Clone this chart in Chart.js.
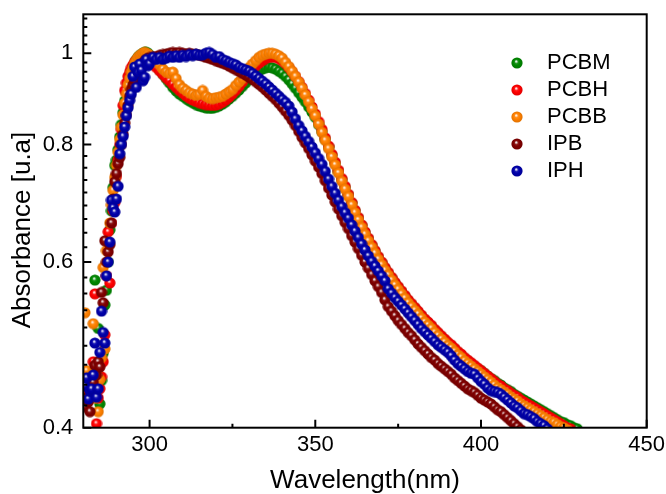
<!DOCTYPE html>
<html>
<head>
<meta charset="utf-8">
<script src="https://cdn.jsdelivr.net/npm/chart.js@4/dist/chart.umd.min.js"></script>
<style>
html,body{margin:0;padding:0;background:#fff;}
canvas{display:block;}
</style>
</head>
<body>
<canvas id="c" width="666" height="494"></canvas>
<script>
// ---------------- DATA ----------------
const seriesNames = ['PCBM', 'PCBH', 'PCBB', 'IPB', 'IPH'];
const xTickValues = [300, 350, 400, 450];
const xMinorTickValues = [325, 375, 425];
const yTickValues = [0.4, 0.6, 0.8, 1];
const yTickLabels = ['0.4', '0.6', '0.8', '1'];

// wavelength grid (nm): 0.5 nm steps up to 300, then 1 nm steps
const waveFine = [280.5, 281, 281.5, 282, 282.5, 283, 283.5, 284, 284.5, 285,
  285.5, 286, 286.5, 287, 287.5, 288, 288.5, 289, 289.5, 290,
  290.5, 291, 291.5, 292, 292.5, 293, 293.5, 294, 294.5, 295,
  295.5, 296, 296.5, 297, 297.5, 298, 298.5, 299, 299.5, 300];
const waveMain = [301, 302, 303, 304, 305, 306, 307, 308, 309, 310,
  311, 312, 313, 314, 315, 316, 317, 318, 319, 320,
  321, 322, 323, 324, 325, 326, 327, 328, 329, 330,
  331, 332, 333, 334, 335, 336, 337, 338, 339, 340,
  341, 342, 343, 344, 345, 346, 347, 348, 349, 350,
  351, 352, 353, 354, 355, 356, 357, 358, 359, 360,
  361, 362, 363, 364, 365, 366, 367, 368, 369, 370,
  371, 372, 373, 374, 375, 376, 377, 378, 379, 380,
  381, 382, 383, 384, 385, 386, 387, 388, 389, 390,
  391, 392, 393, 394, 395, 396, 397, 398, 399, 400,
  401, 402, 403, 404, 405, 406, 407, 408, 409, 410,
  411, 412, 413, 414, 415, 416, 417, 418, 419, 420,
  421, 422, 423, 424, 425, 426, 427, 428, 429, 430];
const wavelengths = waveFine.concat(waveMain);

const pcbm = [
  0.440, 0.445, 0.438, 0.430, 0.440, 0.450, 0.574, 0.460, 0.510, 0.424,
  0.449, 0.480, 0.540, 0.560, 0.600, 0.649, 0.680, 0.720, 0.760, 0.770,
  0.790, 0.815, 0.840, 0.865, 0.890, 0.910, 0.930, 0.945, 0.958, 0.968,
  0.977, 0.984, 0.990, 0.994, 0.997, 1.000, 1.002, 1.002, 1.000, 0.995,
  0.985, 0.972, 0.960, 0.950, 0.940, 0.930, 0.920, 0.912, 0.905, 0.900,
  0.895, 0.890, 0.886, 0.882, 0.879, 0.877, 0.875, 0.874, 0.874, 0.876,
  0.879, 0.883, 0.888, 0.894, 0.900, 0.907, 0.914, 0.922, 0.930, 0.938,
  0.945, 0.952, 0.958, 0.962, 0.965, 0.966, 0.965, 0.962, 0.957, 0.952,
  0.945, 0.937, 0.928, 0.918, 0.908, 0.898, 0.888, 0.877, 0.866, 0.855,
  0.840, 0.825, 0.810, 0.795, 0.779, 0.764, 0.749, 0.734, 0.720, 0.707,
  0.693, 0.680, 0.668, 0.656, 0.645, 0.635, 0.625, 0.616, 0.607, 0.599,
  0.591, 0.584, 0.577, 0.570, 0.564, 0.558, 0.552, 0.546, 0.541, 0.536,
  0.531, 0.526, 0.521, 0.517, 0.513, 0.508, 0.504, 0.500, 0.496, 0.492,
  0.489, 0.485, 0.481, 0.478, 0.474, 0.471, 0.468, 0.465, 0.462, 0.460,
  0.457, 0.454, 0.451, 0.449, 0.446, 0.444, 0.441, 0.439, 0.437, 0.434,
  0.432, 0.430, 0.428, 0.426, 0.424, 0.422, 0.420, 0.418, 0.416, 0.414,
  0.412, 0.410, 0.408, 0.406, 0.405, 0.403, 0.402, 0.400, 0.399];

const pcbh = [
  0.457, 0.440, 0.450, 0.435, 0.450, 0.470, 0.555, 0.404, 0.430, 0.440,
  0.453, 0.470, 0.502, 0.580, 0.646, 0.570, 0.660, 0.680, 0.694, 0.740,
  0.770, 0.800, 0.830, 0.880, 0.913, 0.930, 0.945, 0.955, 0.965, 0.972,
  0.978, 0.983, 0.987, 0.990, 0.992, 0.993, 0.994, 0.992, 0.988, 0.982,
  0.975, 0.966, 0.958, 0.950, 0.942, 0.935, 0.927, 0.920, 0.913, 0.907,
  0.901, 0.896, 0.892, 0.889, 0.886, 0.884, 0.882, 0.881, 0.880, 0.881,
  0.883, 0.887, 0.892, 0.898, 0.905, 0.913, 0.922, 0.932, 0.942, 0.952,
  0.961, 0.969, 0.976, 0.982, 0.987, 0.990, 0.991, 0.990, 0.987, 0.982,
  0.975, 0.966, 0.956, 0.945, 0.933, 0.920, 0.906, 0.892, 0.877, 0.862,
  0.846, 0.830, 0.813, 0.797, 0.781, 0.766, 0.751, 0.736, 0.722, 0.708,
  0.694, 0.681, 0.669, 0.657, 0.646, 0.636, 0.626, 0.617, 0.608, 0.600,
  0.592, 0.585, 0.578, 0.571, 0.565, 0.559, 0.553, 0.547, 0.542, 0.537,
  0.532, 0.527, 0.522, 0.518, 0.514, 0.509, 0.505, 0.501, 0.497, 0.493,
  0.490, 0.486, 0.482, 0.479, 0.475, 0.472, 0.469, 0.466, 0.463, 0.460,
  0.457, 0.454, 0.451, 0.448, 0.445, 0.443, 0.440, 0.438, 0.435, 0.433,
  0.431, 0.428, 0.426, 0.424, 0.422, 0.420, 0.418, 0.416, 0.414, 0.412,
  0.410, 0.408, 0.406, 0.404, 0.402, 0.400, 0.399];

const pcbb = [
  0.530, 0.460, 0.449, 0.445, 0.455, 0.516, 0.430, 0.460, 0.416, 0.450,
  0.475, 0.592, 0.485, 0.617, 0.630, 0.660, 0.690, 0.715, 0.738, 0.760,
  0.785, 0.810, 0.835, 0.860, 0.885, 0.905, 0.925, 0.940, 0.955, 0.965,
  0.975, 0.983, 0.990, 0.994, 0.997, 1.000, 1.002, 1.000, 0.998, 0.995,
  0.990, 0.985, 0.972, 0.962, 0.955, 0.952, 0.955, 0.940, 0.926, 0.918,
  0.913, 0.908, 0.905, 0.902, 0.904, 0.913, 0.900, 0.896, 0.895, 0.897,
  0.898, 0.900, 0.905, 0.910, 0.915, 0.924, 0.932, 0.940, 0.955, 0.965,
  0.974, 0.982, 0.990, 0.995, 0.998, 1.000, 1.000, 0.998, 0.994, 0.988,
  0.978, 0.968, 0.957, 0.945, 0.932, 0.918, 0.903, 0.888, 0.873, 0.858,
  0.841, 0.824, 0.808, 0.792, 0.776, 0.761, 0.746, 0.731, 0.717, 0.704,
  0.690, 0.677, 0.665, 0.653, 0.642, 0.632, 0.622, 0.613, 0.604, 0.596,
  0.588, 0.581, 0.574, 0.567, 0.561, 0.555, 0.549, 0.543, 0.538, 0.533,
  0.528, 0.523, 0.518, 0.514, 0.510, 0.505, 0.501, 0.497, 0.493, 0.489,
  0.486, 0.482, 0.478, 0.475, 0.471, 0.468, 0.465, 0.462, 0.459, 0.456,
  0.453, 0.450, 0.447, 0.444, 0.441, 0.439, 0.436, 0.434, 0.431, 0.429,
  0.427, 0.424, 0.422, 0.420, 0.418, 0.416, 0.414, 0.412, 0.410, 0.408,
  0.406, 0.405, 0.403, 0.401, 0.400, 0.398];

const ipb = [
  0.421, 0.430, 0.426, 0.416, 0.440, 0.447, 0.466, 0.455, 0.470, 0.464,
  0.557, 0.543, 0.632, 0.600, 0.615, 0.626, 0.660, 0.700, 0.730, 0.745,
  0.763, 0.775, 0.800, 0.820, 0.843, 0.860, 0.880, 0.900, 0.915, 0.925,
  0.935, 0.950, 0.960, 0.965, 0.970, 0.975, 0.980, 0.985, 0.985, 0.990,
  0.990, 0.992, 0.995, 0.997, 0.998, 1.000, 1.002, 1.000, 1.002, 1.000,
  0.998, 1.000, 0.998, 0.997, 0.995, 0.993, 0.990, 0.988, 0.985, 0.982,
  0.979, 0.976, 0.973, 0.969, 0.965, 0.961, 0.957, 0.952, 0.948, 0.943,
  0.938, 0.933, 0.927, 0.921, 0.914, 0.907, 0.900, 0.893, 0.885, 0.877,
  0.868, 0.859, 0.849, 0.838, 0.826, 0.814, 0.803, 0.792, 0.780, 0.768,
  0.757, 0.745, 0.732, 0.719, 0.707, 0.695, 0.683, 0.672, 0.661, 0.651,
  0.640, 0.630, 0.620, 0.610, 0.600, 0.591, 0.582, 0.573, 0.565, 0.557,
  0.547, 0.538, 0.532, 0.526, 0.520, 0.515, 0.510, 0.505, 0.501, 0.496,
  0.491, 0.487, 0.483, 0.479, 0.475, 0.472, 0.468, 0.465, 0.462, 0.459,
  0.456, 0.452, 0.449, 0.446, 0.443, 0.440, 0.438, 0.436, 0.433, 0.430,
  0.428, 0.426, 0.424, 0.421, 0.418, 0.416, 0.413, 0.410, 0.407, 0.404,
  0.401, 0.398];

const iph = [
  0.443, 0.452, 0.429, 0.438, 0.440, 0.455, 0.492, 0.431, 0.440, 0.481,
  0.532, 0.505, 0.492, 0.580, 0.600, 0.630, 0.698, 0.685, 0.678, 0.700,
  0.722, 0.782, 0.800, 0.816, 0.835, 0.858, 0.875, 0.891, 0.905, 0.945,
  0.967, 0.920, 0.955, 0.974, 0.960, 0.935, 0.943, 0.985, 0.970, 0.975,
  0.990, 0.985, 0.990, 0.985, 0.988, 0.993, 0.990, 0.994, 0.990, 0.995,
  0.992, 0.997, 0.994, 0.998, 0.995, 0.996, 1.000, 1.002, 0.997, 0.990,
  0.992, 0.985, 0.982, 0.978, 0.975, 0.972, 0.966, 0.963, 0.960, 0.957,
  0.952, 0.946, 0.940, 0.934, 0.928, 0.921, 0.914, 0.907, 0.900, 0.893,
  0.887, 0.879, 0.866, 0.852, 0.838, 0.827, 0.816, 0.806, 0.795, 0.784,
  0.773, 0.762, 0.749, 0.735, 0.722, 0.710, 0.698, 0.687, 0.677, 0.668,
  0.657, 0.647, 0.637, 0.627, 0.618, 0.609, 0.601, 0.594, 0.587, 0.580,
  0.573, 0.562, 0.556, 0.550, 0.545, 0.540, 0.535, 0.530, 0.525, 0.520,
  0.515, 0.510, 0.506, 0.502, 0.498, 0.494, 0.490, 0.487, 0.484, 0.481,
  0.477, 0.472, 0.468, 0.465, 0.462, 0.459, 0.457, 0.456, 0.452, 0.448,
  0.445, 0.441, 0.438, 0.437, 0.436, 0.434, 0.431, 0.428, 0.425, 0.422,
  0.420, 0.417, 0.414, 0.413, 0.411, 0.409, 0.406, 0.404, 0.402, 0.399];

const seriesValues = [pcbm, pcbh, pcbb, ipb, iph];

// ---------------- STYLE ----------------
const seriesColors = [[0, 135, 0], [255, 0, 0], [255, 128, 0], [128, 0, 0], [0, 0, 170]];
const FONT = '"Liberation Sans", Arial, Helvetica, sans-serif';
Chart.defaults.font.family = FONT;
Chart.defaults.color = '#000';

function mix(c, t, k) { return c.map((v, i) => Math.round(v + (t[i] - v) * k)); }
function rgb(c) { return 'rgb(' + c.join(',') + ')'; }
function makeBall(c) {
  const s = 12, r = 5.6, cx = 6, cy = 6;
  const cv = document.createElement('canvas');
  cv.width = s; cv.height = s;
  const g = cv.getContext('2d');
  const grad = g.createRadialGradient(cx - 0.9, cy - 1.8, 0.1, cx, cy, r);
  grad.addColorStop(0, 'rgb(255,255,255)');
  grad.addColorStop(0.13, rgb(mix(c, [255, 255, 255], 0.7)));
  grad.addColorStop(0.32, rgb(mix(c, [255, 255, 255], 0.1)));
  grad.addColorStop(0.55, rgb(c));
  grad.addColorStop(1, rgb(mix(c, [0, 0, 0], 0.12)));
  g.fillStyle = grad;
  g.beginPath(); g.arc(cx, cy, r, 0, Math.PI * 2); g.fill();
  return cv;
}
const balls = seriesColors.map(makeBall);

const datasets = seriesNames.map((name, k) => ({
  label: name,
  data: seriesValues[k].map((v, i) => ({ x: wavelengths[i], y: v })),
  pointStyle: balls[k],
  pointRadius: 5.5,
  backgroundColor: rgb(seriesColors[k]),
  borderColor: rgb(seriesColors[k]),
  showLine: false,
  order: seriesNames.length - 1 - k,
  clip: 0
}));

const decor = {
  id: 'decor',
  afterDatasetsDraw(chart) {
    const ctx = chart.ctx, a = chart.chartArea;
    const xs = chart.scales.x, ys = chart.scales.y;
    ctx.save();
    ctx.strokeStyle = '#000';
    ctx.lineWidth = 2;
    ctx.strokeRect(a.left, a.top, a.right - a.left, a.bottom - a.top);
    ctx.beginPath();
    xTickValues.forEach(v => { const p = xs.getPixelForValue(v); ctx.moveTo(p, a.bottom); ctx.lineTo(p, a.bottom - 8); });
    xMinorTickValues.forEach(v => { const p = xs.getPixelForValue(v); ctx.moveTo(p, a.bottom); ctx.lineTo(p, a.bottom - 4); });
    yTickValues.forEach(v => { const p = ys.getPixelForValue(v); ctx.moveTo(a.left, p); ctx.lineTo(a.left + 8, p); });
    for (let k = 1; k * 0.2 / 9 + 0.4 < 1.1; k++) {
      if (k % 9 === 0) continue;
      const p = ys.getPixelForValue(0.4 + k * 0.2 / 9);
      ctx.moveTo(a.left, p); ctx.lineTo(a.left + 4, p);
    }
    ctx.stroke();
    // y title
    ctx.fillStyle = '#000';
    ctx.font = '26px ' + FONT;
    ctx.translate(29.5, (a.top + a.bottom) / 2 + 9);
    ctx.rotate(-Math.PI / 2);
    ctx.textAlign = 'center';
    ctx.textBaseline = 'alphabetic';
    ctx.fillText('Absorbance [u.a]', 0, 0);
    ctx.restore();
    // legend
    ctx.save();
    ctx.font = '22px ' + FONT;
    ctx.fillStyle = '#000';
    ctx.textAlign = 'left';
    ctx.textBaseline = 'middle';
    seriesNames.forEach((n, k) => {
      const y = 63 + 27 * k;
      ctx.drawImage(balls[k], 517 - 6, y - 6);
      ctx.fillText(n, 547, y);
    });
    ctx.restore();
  }
};

function zeroPad(s) { s.paddingLeft = 0; s.paddingRight = 0; s.paddingTop = 0; s.paddingBottom = 0; }

new Chart(document.getElementById('c'), {
  type: 'scatter',
  data: { datasets },
  options: {
    responsive: false,
    animation: false,
    events: [],
    layout: { padding: { left: 0, top: 14.3, right: 19.3, bottom: 0 } },
    plugins: { legend: { display: false }, tooltip: { enabled: false } },
    scales: {
      x: {
        type: 'linear', min: 280, max: 450,
        afterBuildTicks: s => { s.ticks = xTickValues.map(v => ({ value: v })); },
        afterFit: s => { s.height = 66.3; zeroPad(s); },
        grid: { display: false, drawTicks: false },
        border: { display: false },
        ticks: { font: { size: 22 }, color: '#000', padding: 4, maxRotation: 0, autoSkip: false },
        title: { display: true, text: 'Wavelength(nm)', font: { size: 26, lineHeight: 1 }, padding: 0, color: '#000' }
      },
      y: {
        type: 'logarithmic', min: 0.4, max: 1.1,
        afterBuildTicks: s => { s.ticks = yTickValues.map(v => ({ value: v })); },
        afterFit: s => { s.width = 83.3; zeroPad(s); },
        grid: { display: false, drawTicks: false },
        border: { display: false },
        ticks: {
          font: { size: 22 }, color: '#000', padding: 10, autoSkip: false,
          callback: (v) => { const i = yTickValues.indexOf(v); return i >= 0 ? yTickLabels[i] : ''; }
        }
      }
    }
  },
  plugins: [decor]
});
</script>
</body>
</html>
